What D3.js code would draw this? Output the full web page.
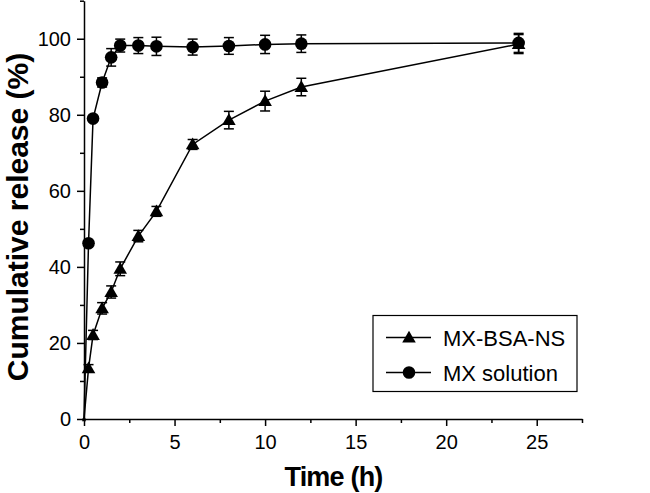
<!DOCTYPE html>
<html><head><meta charset="utf-8">
<script src="https://cdn.jsdelivr.net/npm/d3@7"></script>
<style>body{margin:0;background:#fff}svg{display:block}</style>
</head><body>
<svg id="c" width="650" height="493"></svg>
<script>
const times = [0, 0.25, 0.5, 1, 1.5, 2, 3, 4, 6, 8, 10, 12, 24];
const nsValues = [0, 13.3, 22.1, 29.1, 33.4, 39.5, 48.1, 54.6, 72.2, 78.6, 83.6, 87.3, 98.6];
const nsErrors = [0, 1.0, 1.2, 1.5, 1.6, 1.8, 1.5, 1.3, 1.3, 2.3, 2.6, 2.3, 2.5];
const solValues = [0, 46.2, 79.0, 88.5, 95.1, 98.2, 98.2, 98.0, 97.8, 98.1, 98.5, 98.7, 98.9];
const solErrors = [0, 0.5, 0.6, 1.2, 2.3, 1.7, 2.1, 2.4, 2.1, 2.2, 2.4, 2.3, 2.5];
const xTicks = [0, 5, 10, 15, 20, 25];
const yTicks = [0, 20, 40, 60, 80, 100];
const seriesNames = ["MX-BSA-NS", "MX solution"];

const svg = d3.select("#c");
const L = 84, R = 582, T = 0.7, B = 419;
const x = d3.scaleLinear().domain([0, 27.5]).range([L, R]);
const y = d3.scaleLinear().domain([0, 110]).range([B, T]);
const font = "Liberation Sans, Arial, sans-serif";

// axes
svg.append("g").attr("transform", `translate(0,${B})`)
  .call(d3.axisBottom(x).tickValues(xTicks).tickSize(7).tickSizeOuter(0).tickPadding(9));
svg.append("g").attr("transform", `translate(0,${B})`)
  .call(d3.axisBottom(x).tickValues([2.5,7.5,12.5,17.5,22.5,27.5]).tickSize(4).tickFormat("").tickSizeOuter(0))
  .select(".domain").remove();
svg.append("g").attr("transform", `translate(${L},0)`)
  .call(d3.axisLeft(y).tickValues(yTicks).tickSize(7).tickSizeOuter(0).tickPadding(6));
svg.append("g").attr("transform", `translate(${L},0)`)
  .call(d3.axisLeft(y).tickValues([10,30,50,70,90,110]).tickSize(4).tickFormat("").tickSizeOuter(0))
  .select(".domain").remove();
svg.selectAll(".domain, .tick line").attr("stroke", "#000").attr("stroke-width", 1.5);
svg.selectAll(".tick text").attr("font-family", font).attr("font-size", 20).attr("fill", "#000");

// axis titles
svg.append("text").attr("x", 333.5).attr("y", 486).attr("text-anchor", "middle")
  .attr("font-family", font).attr("font-weight", "bold").attr("font-size", 27)
  .attr("letter-spacing", -0.8).text("Time (h)");
svg.append("text").attr("transform", `translate(28,217) rotate(-90)`).attr("text-anchor", "middle")
  .attr("font-family", font).attr("font-weight", "bold").attr("font-size", 30)
  .attr("letter-spacing", 0).text("Cumulative release (%)");

const line = d3.line().x(d => x(d[0])).y(d => y(d[1]));
const tri = d3.symbol().type(d3.symbolTriangle).size(80);
const circ = d3.symbol().type(d3.symbolCircle).size(125);

function drawSeries(vals, errs, sym) {
  const data = times.map((t, i) => [t, vals[i], errs[i]]);
  svg.append("path").datum(data).attr("d", line).attr("fill", "none").attr("stroke", "#000").attr("stroke-width", 1.5);
  const eg = svg.append("g");
  data.filter(d => d[2] > 0).forEach(d => {
    const cx = x(d[0]);
    eg.append("line").attr("x1", cx).attr("x2", cx).attr("y1", y(d[1] - d[2])).attr("y2", y(d[1] + d[2])).attr("stroke", "#000").attr("stroke-width", 1.5);
    [d[1] - d[2], d[1] + d[2]].forEach(v => {
      eg.append("line").attr("x1", cx - 5).attr("x2", cx + 5).attr("y1", y(v)).attr("y2", y(v)).attr("stroke", "#000").attr("stroke-width", 1.5);
    });
  });
  svg.append("g").selectAll("path").data(data).join("path")
    .attr("transform", d => `translate(${x(d[0])},${y(d[1]) + (sym === tri ? 1 : 0)})`)
    .attr("d", (d, i) => i === 0 ? d3.symbol().type(sym === tri ? d3.symbolTriangle : d3.symbolCircle).size(8)() : sym())
    .attr("fill", "#000");
}
drawSeries(nsValues, nsErrors, tri);
drawSeries(solValues, solErrors, circ);

// legend
const lg = svg.append("g");
lg.append("rect").attr("x", 373).attr("y", 315.5).attr("width", 204).attr("height", 76)
  .attr("fill", "#fff").attr("stroke", "#000").attr("stroke-width", 1.2);
[tri, circ].forEach((s, i) => {
  const yy = 337.5 + i * 35;
  lg.append("line").attr("x1", 386).attr("x2", 431).attr("y1", yy).attr("y2", yy).attr("stroke", "#000").attr("stroke-width", 1.5);
  lg.append("path").attr("transform", `translate(409,${yy + (s === tri ? 1 : 0)})`).attr("d", s()).attr("fill", "#000");
  lg.append("text").attr("x", 443).attr("y", yy + 8).attr("font-family", font).attr("font-size", 22).text(seriesNames[i]);
});
</script>
</body></html>
